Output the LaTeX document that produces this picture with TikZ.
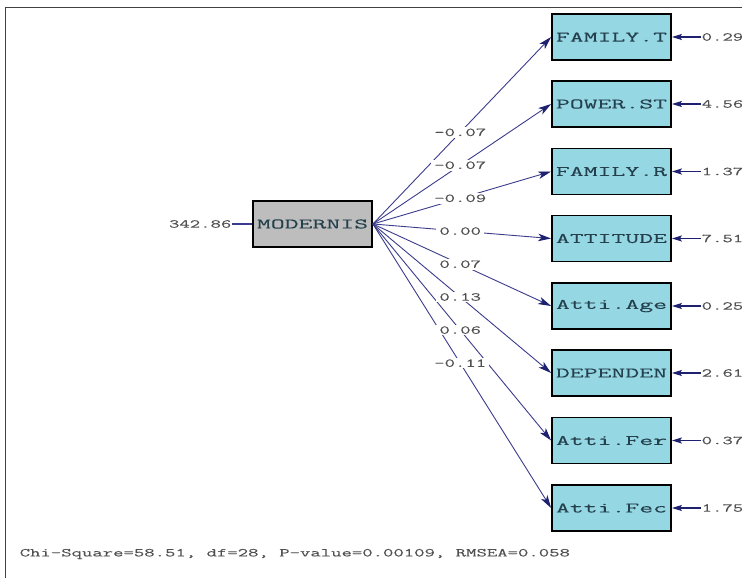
\documentclass[tikz,border=0pt]{standalone}
\usepackage{fontspec}
\usetikzlibrary{arrows.meta}
\newfontfamily\bigmono[FakeStretch=1.86,FakeBold=0.1]{Latin Modern Mono}
\newfontfamily\smallmono[FakeStretch=1.68,FakeBold=0.15]{Latin Modern Mono}
\definecolor{obsfill}{HTML}{96D7E4}
\definecolor{latfill}{HTML}{BDBDBD}
\definecolor{pathcol}{HTML}{3C3C8C}
\definecolor{tipcol}{HTML}{1E2070}
\definecolor{boxtext}{HTML}{24404C}
\definecolor{lbltext}{HTML}{505050}
\tikzset{
  obsbox/.style={draw=black, line width=1.8pt, fill=obsfill, minimum width=119pt, minimum height=46pt, inner sep=0pt, font=\bigmono\fontsize{14.5}{16}\selectfont, text=boxtext},
  latbox/.style={obsbox, fill=latfill},
  lbl/.style={font=\smallmono\fontsize{12}{13}\selectfont, text=lbltext, inner sep=0.5pt},
  plbl/.style={lbl, fill=white, inner xsep=3pt, inner ysep=1.5pt, pos=0.49},
  pathline/.style={draw=pathcol, line width=0.9pt, -{Stealth[length=13pt,width=7.5pt,inset=3.5pt,color=tipcol]}},
  errline/.style={draw=tipcol, line width=1.3pt, -{Stealth[length=10pt,width=6pt,inset=2pt,color=tipcol]}},
  frameline/.style={draw=black!75, line width=0.8pt}
}
\begin{document}
\begin{tikzpicture}[x=1pt,y=-1pt]
\useasboundingbox (0,0) rectangle (742,578);
\fill[white] (0,0) rectangle (742,578);
\coordinate (fa) at (5,578);
\coordinate (fb) at (5,7.5);
\coordinate (fc) at (742,7.5);
\draw[frameline] (fa) -- (fb) -- (fc);

\node[latbox] (mod) at (312.5,224) {MODERNIS};
\node[lbl, anchor=east] (v0) at (232,224) {342.86};
\draw[draw=pathcol, line width=1.2pt] (v0.east) -- (mod.west);

\foreach \n/\t/\y/\e in {1/FAMILY.T/37/0.29, 2/POWER.ST/104/4.56, 3/FAMILY.R/171.5/1.37, 4/ATTITUDE/238.5/7.51, 5/Atti.Age/306/0.25, 6/DEPENDEN/373/2.61, 7/Atti.Fer/440.5/0.37, 8/Atti.Fec/508/1.75}{
  \node[obsbox] (f\n) at (611.5,\y) {\t};
  \node[lbl, anchor=west] (e\n) at (701,\y) {\e};
  \draw[errline] (e\n.west) -- (f\n.east);
}

\foreach \n/\c in {1/-0.07, 2/-0.07, 3/-0.09, 4/0.00, 5/0.07, 6/0.13, 7/0.06, 8/-0.11}{
  \draw[pathline] (mod.east) -- (f\n.west);
}
\foreach \n/\c in {1/-0.07, 2/-0.07, 3/-0.09, 4/0.00, 5/0.07, 6/0.13, 7/0.06, 8/-0.11}{
  \path (mod.east) -- (f\n.west) node[plbl] (c\n) {\c};
}

\node[lbl, anchor=west] (fit) at (19,554) {Chi-Square=58.51, df=28, P-value=0.00109, RMSEA=0.058};
\end{tikzpicture}
\end{document}
